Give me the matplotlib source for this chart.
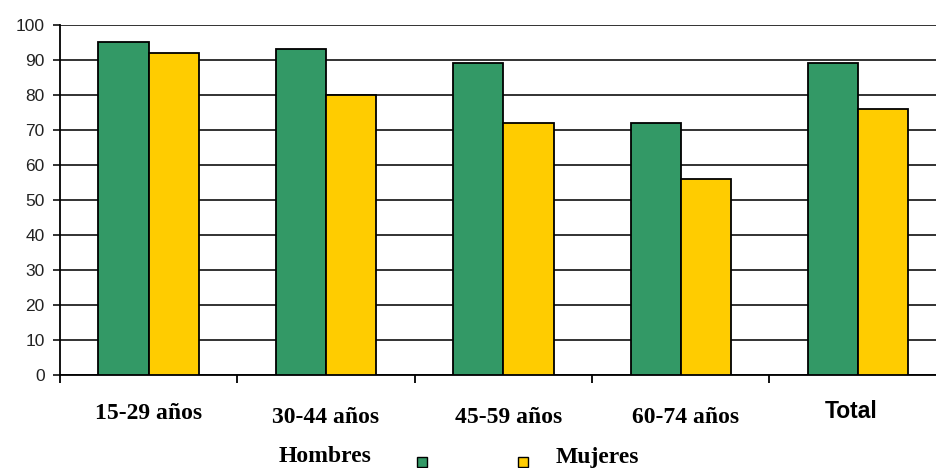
import matplotlib.pyplot as plt
import numpy as np
from matplotlib.patches import Rectangle

# Données
categories = ['15-29 años', '30-44 años', '45-59 años', '60-74 años', 'Total']
hombres = [95, 93, 89, 72, 89]
mujeres = [92, 80, 72, 56, 76]
y_ticks = [0, 10, 20, 30, 40, 50, 60, 70, 80, 90, 100]

VERT = '#339966'
JAUNE = '#FFCC00'

fig = plt.figure(figsize=(9.37, 4.68), dpi=100)
ax = fig.add_axes([0.064, 0.1987, 0.936, 0.748])

x = np.arange(len(categories))
w = 0.283
ax.bar(x - w / 2, hombres, width=w, color=VERT, edgecolor='black', linewidth=1.3, zorder=3)
ax.bar(x + w / 2, mujeres, width=w, color=JAUNE, edgecolor='black', linewidth=1.3, zorder=3)

ax.set_xlim(-0.5, 4.445)
ax.set_ylim(0, 100)
ax.set_yticks(y_ticks)
ax.set_yticklabels([str(v) for v in y_ticks], fontsize=12.5, color='#333333',
                   family='Liberation Sans')
ax.tick_params(axis='y', length=5, width=1.3, pad=6, colors='#222222')

# graduations x aux limites des catégories
ax.set_xticks(np.arange(-0.5, len(categories) - 0.5, 1.0))
ax.set_xticklabels([])
ax.tick_params(axis='x', length=6, width=1.3, direction='out')

ax.yaxis.grid(True, color='#222222', linewidth=1.3)
ax.set_axisbelow(True)
for s in ['top', 'right']:
    ax.spines[s].set_visible(False)
ax.spines['left'].set_linewidth(1.3)
ax.spines['bottom'].set_linewidth(1.3)

# étiquettes des catégories
trans = ax.get_xaxis_transform()
decalages = [-0.11, -0.12, -0.12, -0.12, -0.105]
for i, lab in enumerate(categories):
    if lab == 'Total':
        ax.text(i - 0.04, decalages[i], lab, transform=trans, ha='center', va='center',
                fontsize=16.5, fontweight='bold', family='Liberation Sans')
    else:
        ax.text(i + (0.03 if i >= 2 else 0), decalages[i], lab, transform=trans,
                ha='center', va='center', fontsize=17, fontweight='bold',
                family='Liberation Serif')

# légende
fig.text(325 / 937, 1 - 457 / 468, 'Hombres', ha='center', va='center',
         fontsize=17, fontweight='bold', family='Liberation Serif')
fig.text(597 / 937, 1 - 457 / 468, 'Mujeres', ha='center', va='center',
         fontsize=17, fontweight='bold', family='Liberation Serif')
for xc, col in [(417, VERT), (518, JAUNE)]:
    fig.patches.append(Rectangle((xc / 937, 1 - 467 / 468), 10 / 937, 10 / 468,
                                 transform=fig.transFigure, facecolor=col,
                                 edgecolor='black', linewidth=1.0))

fig.savefig('out.png', dpi=100)
